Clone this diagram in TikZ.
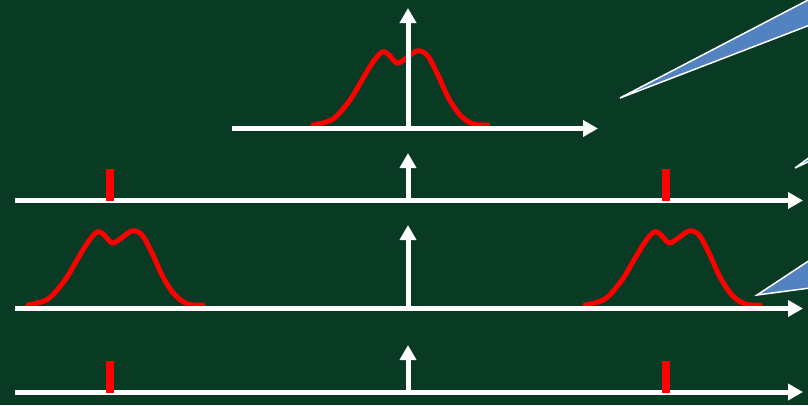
\documentclass[tikz,border=0pt]{standalone}
\usetikzlibrary{arrows.meta}
\definecolor{bg}{RGB}{8,58,36}
\definecolor{callblue}{RGB}{83,130,192}
\begin{document}
\begin{tikzpicture}[x=1pt,y=-1pt,
  axis/.style={draw=white,line width=5pt,-{Triangle[length=15pt,width=16pt]}},
  bumpline/.style={draw=red,line width=5pt,line cap=round,line join=round},
  tick/.style={draw=red,line width=8pt},
  callout/.style={fill=callblue,draw=white,line width=1.5pt,line join=miter},
  bump/.pic={\draw[bumpline] plot[smooth,tension=0.55] coordinates {(0,0) (20,-6) (37,-25) (49,-45) (60,-63) (69,-73) (75,-71) (84,-62) (92,-66) (104,-74) (114,-70) (124,-52) (135,-28) (147,-10) (160,-1) (175,0)};}]
\fill[bg] (0,0) rectangle (808,405);
\useasboundingbox (0,0) rectangle (808,405);
% coordinates
\coordinate (a1l) at (232,128.5); \coordinate (a1r) at (598,128.5);
\coordinate (v1b) at (408,128.5); \coordinate (v1t) at (408,8);
\coordinate (a2l) at (15,200.5); \coordinate (a2r) at (803,200.5);
\coordinate (v2b) at (408,200.5); \coordinate (v2t) at (408,153);
\coordinate (a3l) at (15,308.5); \coordinate (a3r) at (803,308.5);
\coordinate (v3b) at (408,308.5); \coordinate (v3t) at (408,225);
\coordinate (a4l) at (15,392); \coordinate (a4r) at (803,392);
\coordinate (v4b) at (408,392); \coordinate (v4t) at (408,345);
% red bumps
\pic at (313,125) {bump};
\pic at (28,305) {bump};
\pic at (585,305) {bump};
% axes
\draw[axis] (a1l) -- (a1r);
\draw[axis] (v1b) -- (v1t);
\draw[axis] (a2l) -- (a2r);
\draw[axis] (v2b) -- (v2t);
\draw[axis] (a3l) -- (a3r);
\draw[axis] (v3b) -- (v3t);
\draw[axis] (a4l) -- (a4r);
\draw[axis] (v4b) -- (v4t);
% red ticks
\draw[tick] (110,169) -- (110,201);
\draw[tick] (666,169) -- (666,201);
\draw[tick] (110,361) -- (110,393);
\draw[tick] (666,361) -- (666,393);
% callout wedges
\draw[callout] (620,98) -- (810,-1) -- (810,25) -- cycle;
\draw[callout] (795,168) -- (810,157) -- (810,161) -- cycle;
\draw[callout] (757,295) -- (810,260) -- (810,288) -- cycle;
\end{tikzpicture}
\end{document}
